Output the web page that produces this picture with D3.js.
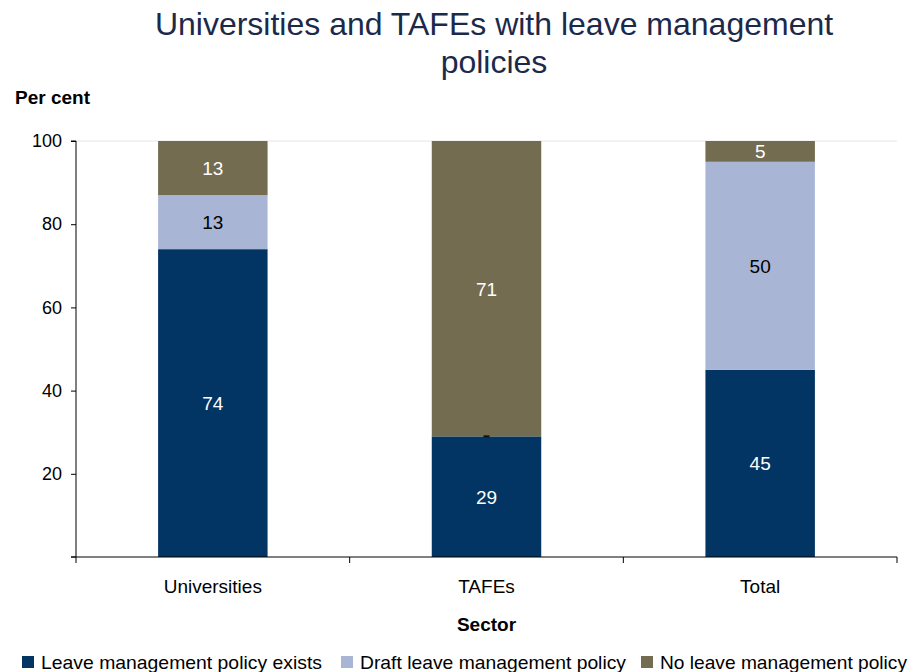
<!DOCTYPE html>
<html>
<head>
<meta charset="utf-8">
<script src="https://cdn.jsdelivr.net/npm/d3@7"></script>
<style>
  body { margin: 0; background: #fff; }
  svg { display: block; font-family: "Liberation Sans", Arial, sans-serif; }
</style>
</head>
<body>
<svg id="chart" width="922" height="672"></svg>
<script>
// Sectors and share of institutions (per cent) in each policy status
const categories = ["Universities", "TAFEs", "Total"];
const seriesNames = ["Leave management policy exists", "Draft leave management policy", "No leave management policy"];
const policyExists = [74, 29, 45];
const draftPolicy = [13, 0, 50];
const noPolicy = [13, 71, 5];
const yTicks = [20, 40, 60, 80, 100];
const colors = ["#023563", "#A9B5D5", "#736C50"];
const labelColors = ["#ffffff", "#000000", "#ffffff"];

const svg = d3.select("#chart");
const margin = { left: 76, right: 25, top: 141, bottom: 115 };
const W = 922, H = 672;

const x = d3.scaleBand().domain(categories).range([margin.left, W - margin.right]).paddingInner(0).paddingOuter(0);
const y = d3.scaleLinear().domain([0, 100]).range([H - margin.bottom, margin.top]);

const rows = categories.map((c, i) => ({ cat: c, s0: policyExists[i], s1: draftPolicy[i], s2: noPolicy[i] }));
const stack = d3.stack().keys(["s0", "s1", "s2"])(rows);

// Title
svg.append("text").attr("x", 494).attr("y", 35).attr("text-anchor", "middle")
  .attr("font-size", 32).attr("fill", "#1B2A4A").text("Universities and TAFEs with leave management");
svg.append("text").attr("x", 494).attr("y", 73).attr("text-anchor", "middle")
  .attr("font-size", 32).attr("fill", "#1B2A4A").text("policies");

// Axis titles
svg.append("text").attr("x", 15).attr("y", 104).attr("font-size", 19).attr("font-weight", "bold").text("Per cent");
svg.append("text").attr("x", (margin.left + W - margin.right) / 2).attr("y", 631).attr("text-anchor", "middle")
  .attr("font-size", 19).attr("font-weight", "bold").text("Sector");

// Faint top border of plot area
svg.append("line").attr("x1", margin.left).attr("x2", W - margin.right)
  .attr("y1", y(100)).attr("y2", y(100)).attr("stroke", "#e6e6e6");

// Bars
const barW = x.bandwidth() * 0.4;
stack.forEach((layer, li) => {
  svg.append("g").selectAll("rect").data(layer).join("rect")
    .attr("x", d => x(d.data.cat) + (x.bandwidth() - barW) / 2)
    .attr("width", barW)
    .attr("y", d => y(d[1]))
    .attr("height", d => y(d[0]) - y(d[1]))
    .attr("fill", colors[li]);
});

// Segment value labels
stack.forEach((layer, li) => {
  layer.forEach(d => {
    const v = d[1] - d[0];
    const cx = x(d.data.cat) + x.bandwidth() / 2;
    if (v > 0) {
      svg.append("text").attr("x", cx).attr("y", y((d[0] + d[1]) / 2) + 7)
        .attr("text-anchor", "middle").attr("font-size", 19).attr("fill", labelColors[li]).text(v);
    } else {
      // zero-height segment shown as a short dash at its position
      svg.append("rect").attr("x", cx - 3).attr("y", y(d[0]) - 1).attr("width", 6).attr("height", 2).attr("fill", "#111");
    }
  });
});

// Y axis
const yAxis = d3.axisLeft(y).tickValues(yTicks).tickSize(5).tickPadding(9);
const gy = svg.append("g").attr("transform", `translate(${margin.left},0)`).call(yAxis);
gy.select(".domain").attr("stroke", "#000").attr("d", `M-5,${y(100)}H0V${y(0)}`);
gy.selectAll("text").attr("font-size", 18).attr("fill", "#000").attr("font-family", "Liberation Sans, Arial, sans-serif");
gy.selectAll(".tick line").attr("stroke", "#000");
// tick at zero
gy.append("line").attr("x1", -5).attr("x2", 0).attr("y1", y(0)).attr("y2", y(0)).attr("stroke", "#000");

// X axis with ticks at category boundaries
const gx = svg.append("g").attr("transform", `translate(0,${y(0)})`);
gx.append("line").attr("x1", margin.left - 5).attr("x2", W - margin.right).attr("stroke", "#000");
const bounds = categories.map(c => x(c)).concat([x(categories[categories.length - 1]) + x.bandwidth()]);
gx.selectAll("line.tk").data(bounds).join("line").attr("class", "tk")
  .attr("x1", d => d).attr("x2", d => d).attr("y1", 0).attr("y2", 6).attr("stroke", "#000");
gx.selectAll("text").data(categories).join("text")
  .attr("x", d => x(d) + x.bandwidth() / 2).attr("y", 36).attr("text-anchor", "middle")
  .attr("font-size", 19).attr("fill", "#000").text(d => d);

// Legend
const legendX = [22, 341, 641];
const legendW = [281, 266, 247];
const legend = svg.append("g");
seriesNames.forEach((name, i) => {
  legend.append("rect").attr("x", legendX[i]).attr("y", 656).attr("width", 12).attr("height", 12).attr("fill", colors[i]);
  legend.append("text").attr("x", legendX[i] + 19).attr("y", 669).attr("font-size", 19)
    .attr("textLength", legendW[i]).attr("lengthAdjust", "spacingAndGlyphs")
    .attr("fill", "#000").text(name);
});
</script>
</body>
</html>
